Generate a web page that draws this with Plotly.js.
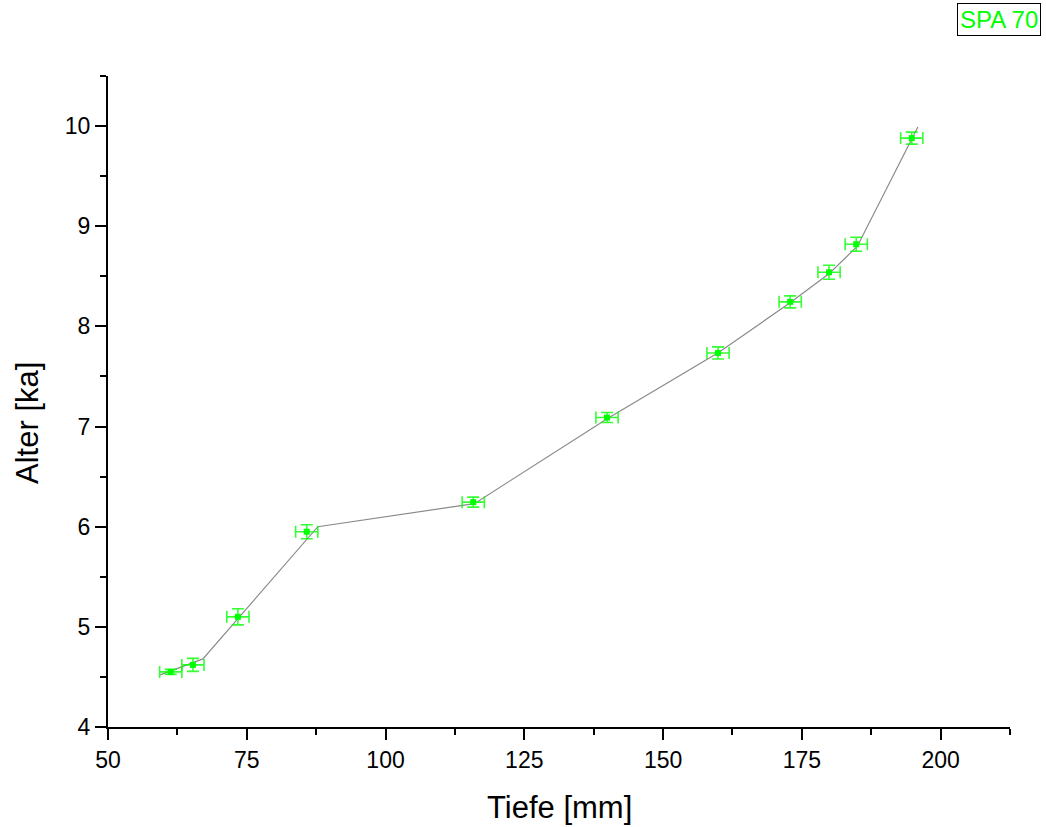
<!DOCTYPE html>
<html>
<head>
<meta charset="utf-8">
<script src="https://cdn.plot.ly/plotly-3.0.1.min.js"></script>
<style>html,body{margin:0;padding:0;background:#fff;}#chart{width:1046px;height:827px;}</style>
</head>
<body>
<div id="chart"></div>
<script>
// Measured samples
const depth = [61.3, 65.3, 73.4, 85.8, 115.8, 139.9, 159.9, 172.9, 179.9, 184.8, 194.8];
const age = [4.55, 4.62, 5.10, 5.95, 6.245, 7.09, 7.735, 8.245, 8.54, 8.82, 9.88];
const depthErr = [2, 2, 2, 2, 2, 2, 2, 2, 2, 2, 2];
const ageErr = [0.025, 0.065, 0.08, 0.07, 0.05, 0.05, 0.06, 0.06, 0.07, 0.07, 0.06];
// Age-depth model line
const modelDepth = [59.4, 67.1, 87.8, 116, 140, 160, 173, 180, 185, 195.9];
const modelAge = [4.52, 4.68, 6.0, 6.23, 7.08, 7.74, 8.24, 8.53, 8.80, 9.99];
// Axis ticks
const xTicks = [50, 75, 100, 125, 150, 175, 200];
const yTicks = [4, 5, 6, 7, 8, 9, 10];

const traces = [
  {
    x: modelDepth, y: modelAge, type: 'scatter', mode: 'lines',
    line: {color: '#8a8a8a', width: 1.2}, hoverinfo: 'skip', showlegend: false
  },
  {
    x: depth, y: age, type: 'scatter', mode: 'markers',
    marker: {color: '#00ff00', size: 6, symbol: 'square'},
    error_x: {type: 'data', array: depthErr, visible: true, color: 'rgba(0,255,0,0.8)', thickness: 1.6, width: 6},
    error_y: {type: 'data', array: ageErr, visible: true, color: 'rgba(0,255,0,0.8)', thickness: 1.6, width: 6},
    name: 'SPA 70', showlegend: false
  }
];

const layout = {
  width: 1046, height: 827,
  margin: {l: 108, r: 36, t: 76, b: 100},
  paper_bgcolor: '#fff', plot_bgcolor: '#fff',
  font: {family: 'Liberation Sans, Arial, sans-serif', color: '#000', size: 23},
  xaxis: {
    range: [50, 212.5], tickvals: xTicks, ticktext: xTicks.map(String),
    showgrid: false, zeroline: false, showline: true, linecolor: '#000', linewidth: 2,
    ticks: 'outside', ticklen: 11, tickwidth: 2, tickcolor: '#000',
    minor: {dtick: 12.5, tick0: 50, ticks: 'outside', ticklen: 6, tickwidth: 2, tickcolor: '#000', showgrid: false},
    tickfont: {size: 23}
  },
  yaxis: {
    range: [4, 10.5], tickvals: yTicks, ticktext: yTicks.map(String),
    showgrid: false, zeroline: false, showline: true, linecolor: '#000', linewidth: 2,
    ticks: 'outside', ticklen: 11, tickwidth: 2, tickcolor: '#000',
    minor: {dtick: 0.5, tick0: 4, ticks: 'outside', ticklen: 6, tickwidth: 2, tickcolor: '#000', showgrid: false},
    tickfont: {size: 23}
  },
  annotations: [
    {
      text: 'Tiefe [mm]', xref: 'paper', yref: 'paper', x: 0.501, y: -0.124,
      xanchor: 'center', yanchor: 'middle', showarrow: false, font: {size: 31, color: '#000'}
    },
    {
      text: 'Alter [ka]', xref: 'paper', yref: 'paper', x: -0.0887, y: 0.467, textangle: -90,
      xanchor: 'center', yanchor: 'middle', showarrow: false, font: {size: 31, color: '#000'}
    },
    {
      text: 'SPA 70', xref: 'paper', yref: 'paper', x: 1.034, y: 1.112,
      xanchor: 'right', yanchor: 'top', showarrow: false,
      font: {size: 24, color: '#00ff00'},
      bordercolor: '#000', borderwidth: 1, borderpad: 2, bgcolor: '#fff'
    }
  ]
};

Plotly.newPlot('chart', traces, layout, {displayModeBar: false, staticPlot: true});
</script>
</body>
</html>
